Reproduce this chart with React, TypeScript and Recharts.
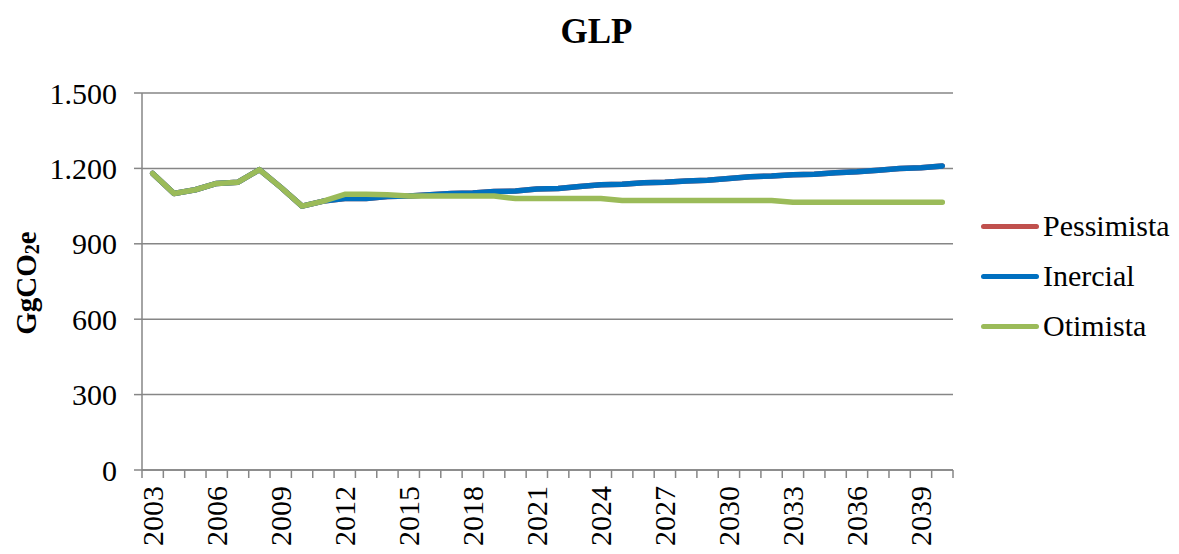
import React from "react";
import {
  LineChart,
  Line,
  XAxis,
  YAxis,
  CartesianGrid,
  Legend,
} from "recharts";

const YEARS = [
  2003, 2004, 2005, 2006, 2007, 2008, 2009, 2010, 2011, 2012, 2013, 2014, 2015,
  2016, 2017, 2018, 2019, 2020, 2021, 2022, 2023, 2024, 2025, 2026, 2027, 2028,
  2029, 2030, 2031, 2032, 2033, 2034, 2035, 2036, 2037, 2038, 2039, 2040,
];

const INERCIAL = [
  1180, 1100, 1115, 1140, 1145, 1195, 1125, 1050, 1070, 1080, 1080, 1088, 1090,
  1095, 1100, 1102, 1108, 1110, 1118, 1120, 1128, 1135, 1137, 1143, 1145, 1150,
  1153, 1160, 1167, 1170, 1175, 1177, 1183, 1187, 1193, 1200, 1203, 1210,
];

// hidden under the other two lines in the original
const PESSIMISTA = INERCIAL;

const OTIMISTA = [
  1180, 1100, 1115, 1140, 1145, 1195, 1125, 1050, 1070, 1097, 1097, 1095, 1090,
  1090, 1090, 1090, 1090, 1080, 1080, 1080, 1080, 1080, 1072, 1072, 1072, 1072,
  1072, 1072, 1072, 1072, 1065, 1065, 1065, 1065, 1065, 1065, 1065, 1065,
];

const Y_TICKS = [0, 300, 600, 900, 1200, 1500];

const SERIES = [
  { key: "pessimista", name: "Pessimista", color: "#C0504D" },
  { key: "inercial", name: "Inercial", color: "#0070C0" },
  { key: "otimista", name: "Otimista", color: "#9BBB59" },
];

const data = YEARS.map((year, i) => ({
  pos: i + 0.5,
  year,
  pessimista: PESSIMISTA[i],
  inercial: INERCIAL[i],
  otimista: OTIMISTA[i],
}));

const boundaryTicks = YEARS.map((_, i) => i).concat(YEARS.length);

const W = 1179;
const H = 554;
const LEGEND_W = 200;
// the vertical legend's width gets added to the right margin by recharts
const MARGIN = { top: 93, right: 226 - LEGEND_W, bottom: 0, left: 0 };
const Y_WIDTH = 142;
const FONT = "'Liberation Serif', 'Times New Roman', serif";
const GRAY = "#868686";

const plotW = W - 226 - Y_WIDTH;
const halfStep = plotW / YEARS.length / 2;

const fmt = (v: number) =>
  v >= 1000 ? `${Math.floor(v / 1000)}.${String(v % 1000).padStart(3, "0")}` : `${v}`;

const YearTick = (props: any) => {
  const { x, y, payload } = props;
  const idx = payload.value;
  if (idx >= YEARS.length || idx % 3 !== 0) return null;
  const cx = x + halfStep;
  return (
    <text
      x={cx}
      y={y}
      transform={`rotate(-90, ${cx}, ${y})`}
      textAnchor="end"
      dominantBaseline="central"
      fontFamily={FONT}
      fontSize={30}
      fill="#000"
    >
      {YEARS[idx]}
    </text>
  );
};

const YLabel = () => (
  <text
    transform="translate(26, 283) rotate(-90)"
    textAnchor="middle"
    dominantBaseline="central"
    fontFamily={FONT}
    fontSize={29}
    fontWeight="bold"
    fill="#000"
  >
    GgCO
    <tspan fontSize={20} dy={6}>
      2
    </tspan>
    <tspan dy={-6}>e</tspan>
  </text>
);

const LegendBox = () => (
  <div style={{ fontFamily: FONT, fontSize: 30, color: "#000" }}>
    {SERIES.map((s) => (
      <div
        key={s.key}
        style={{ display: "flex", alignItems: "center", height: 50 }}
      >
        <div
          style={{
            width: 58,
            height: 5,
            borderRadius: 3,
            background: s.color,
            marginRight: 4,
          }}
        />
        <span>{s.name}</span>
      </div>
    ))}
  </div>
);

export default function App() {
  return (
    <div
      style={{
        position: "absolute",
        left: 0,
        top: 0,
        width: W,
        height: H,
        background: "#fff",
      }}
    >
      <div
        style={{
          position: "absolute",
          top: 12,
          left: 0,
          width: W,
          textAlign: "center",
          fontFamily: FONT,
          fontSize: 35,
          fontWeight: "bold",
          paddingLeft: 14,
          boxSizing: "border-box",
        }}
      >
        GLP
      </div>
      <LineChart width={W} height={H} data={data} margin={MARGIN}>
        <CartesianGrid vertical={false} stroke={GRAY} strokeWidth={1.5} />
        <XAxis
          dataKey="pos"
          type="number"
          domain={[0, YEARS.length]}
          ticks={boundaryTicks}
          interval={0}
          height={H - MARGIN.top - 377}
          axisLine={{ stroke: GRAY, strokeWidth: 1.5 }}
          tickLine={{ stroke: GRAY, strokeWidth: 1.5 }}
          tickSize={8}
          tickMargin={8}
          tick={<YearTick />}
        />
        <YAxis
          width={Y_WIDTH}
          domain={[0, 1500]}
          ticks={Y_TICKS}
          interval={0}
          tickFormatter={fmt}
          axisLine={{ stroke: GRAY, strokeWidth: 1.5 }}
          tickLine={{ stroke: GRAY, strokeWidth: 1.5 }}
          tickSize={8}
          tickMargin={17}
          tick={{ fontFamily: FONT, fontSize: 30, fill: "#000" }}
          label={<YLabel />}
        />
        {SERIES.map((s) => (
          <Line
            key={s.key}
            dataKey={s.key}
            name={s.name}
            type="linear"
            stroke={s.color}
            strokeWidth={5.5}
            strokeLinecap="round"
            strokeLinejoin="round"
            dot={false}
            activeDot={false}
            isAnimationActive={false}
          />
        ))}
        <Legend
          layout="vertical"
          align="right"
          verticalAlign="top"
          content={<LegendBox />}
          wrapperStyle={{ left: 981, top: 201, width: LEGEND_W }}
        />
      </LineChart>
    </div>
  );
}
